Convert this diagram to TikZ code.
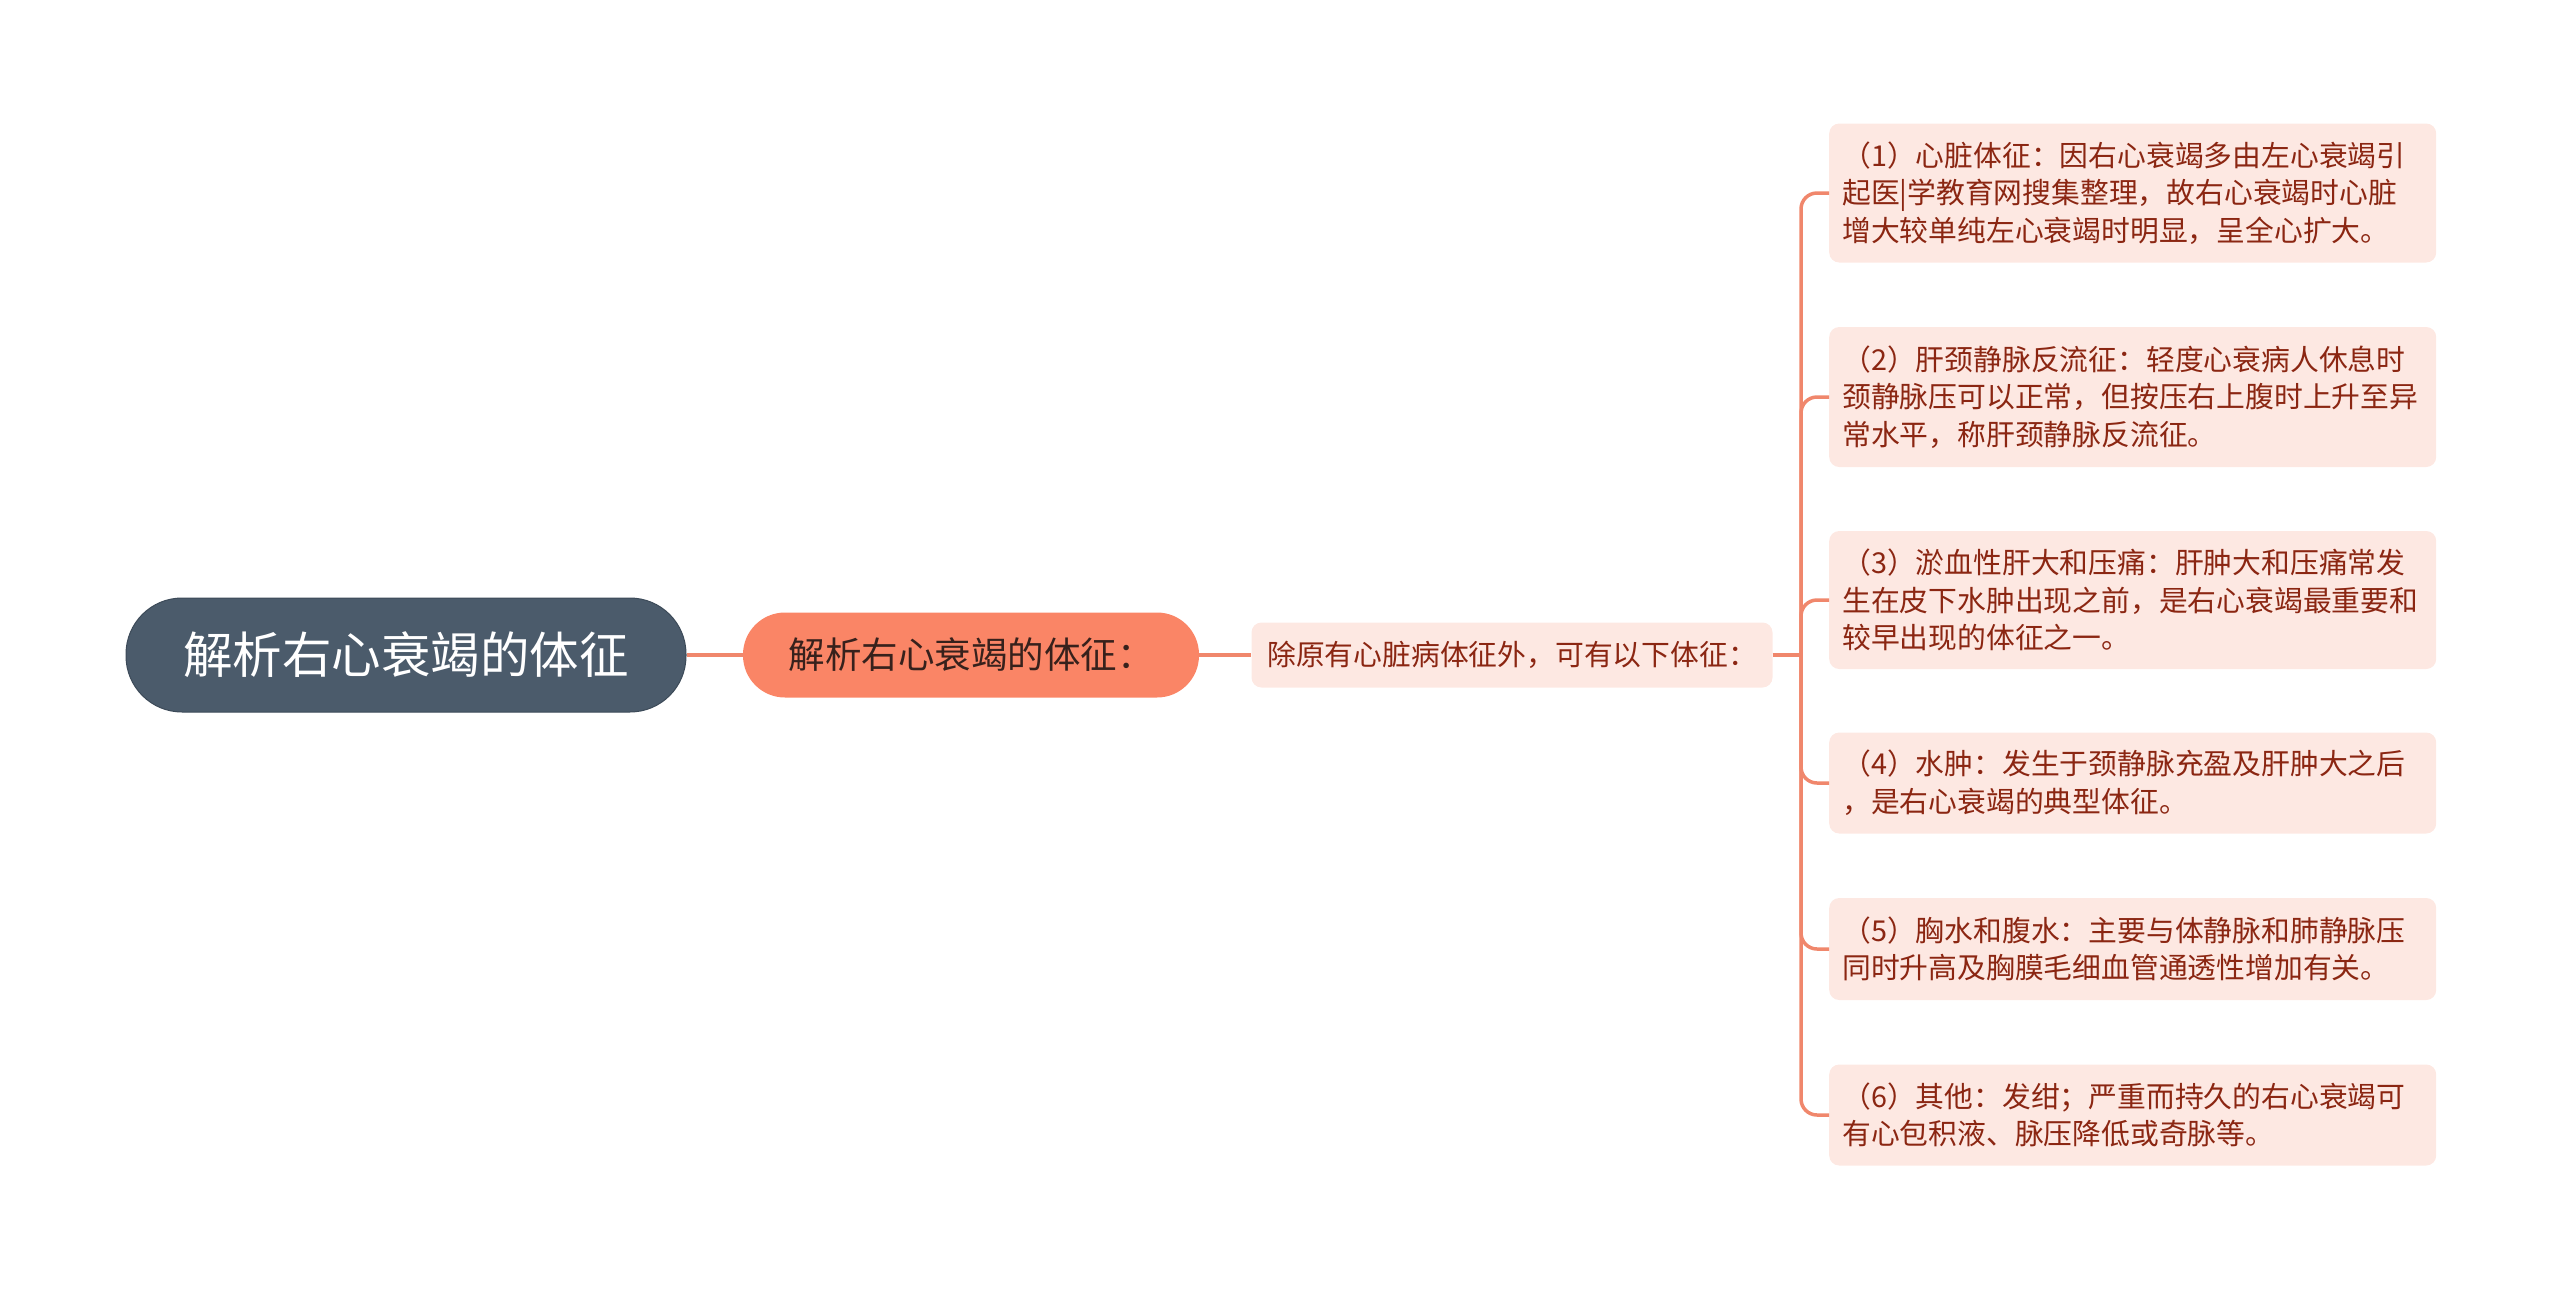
\documentclass[tikz,border=0pt]{standalone}
\usepackage{fontspec}
\setmainfont{Noto Sans CJK SC}
\usetikzlibrary{positioning}
\definecolor{rootfill}{RGB}{75,91,107}
\definecolor{rootline}{RGB}{60,74,88}
\definecolor{salmon}{RGB}{250,133,102}
\definecolor{linkcol}{RGB}{240,135,108}
\definecolor{leaffill}{RGB}{253,232,226}
\definecolor{leaftext}{RGB}{139,38,18}
\definecolor{midtext}{RGB}{55,33,28}
\begin{document}
\begin{tikzpicture}[x=1pt,y=-1pt,
    rootbox/.style={fill=rootfill,draw=rootline,line width=1pt,rounded corners=56pt,
      minimum width=560pt,minimum height=114pt,inner sep=0pt,text=white,
      font=\fontsize{49.5}{58}\selectfont},
    midbox/.style={fill=salmon,rounded corners=42pt,minimum width=456pt,minimum height=85pt,
      inner sep=0pt,text=midtext,font=\fontsize{36.5}{44}\selectfont},
    subbox/.style={fill=leaffill,rounded corners=10pt,minimum width=521pt,minimum height=65pt,
      inner sep=0pt,text=leaftext,font=\fontsize{28.8}{37.6}\selectfont},
    leafbox/.style={fill=leaffill,rounded corners=10pt,anchor=west,align=left,
      text width=581pt,inner xsep=13pt,inner ysep=0pt,text=leaftext,
      font=\fontsize{28.8}{37.6}\selectfont},
    link/.style={draw=linkcol,line width=3.5pt}]
\useasboundingbox (0,0) rectangle (2560,1291);
\node[rootbox] (root) at (406,655) {解析右心衰竭的体征};
\node[midbox] (mid) at (971,655) {解析右心衰竭的体征：};
\node[subbox] (sub) at (1512,655) {除原有心脏病体征外，可有以下体征：};
\coordinate (fork) at (1801,655);
\node[leafbox,minimum height=139pt] (leaf1) at (1829,193)
  {（1）心脏体征：因右心衰竭多由左心衰竭引\\起医|学教育网搜集整理，故右心衰竭时心脏\\增大较单纯左心衰竭时明显，呈全心扩大。};
\node[leafbox,minimum height=140pt] (leaf2) at (1829,397)
  {（2）肝颈静脉反流征：轻度心衰病人休息时\\颈静脉压可以正常，但按压右上腹时上升至异\\常水平，称肝颈静脉反流征。};
\node[leafbox,minimum height=138pt] (leaf3) at (1829,600)
  {（3）淤血性肝大和压痛：肝肿大和压痛常发\\生在皮下水肿出现之前，是右心衰竭最重要和\\较早出现的体征之一。};
\node[leafbox,minimum height=101pt] (leaf4) at (1829,783)
  {（4）水肿：发生于颈静脉充盈及肝肿大之后\\，是右心衰竭的典型体征。};
\node[leafbox,minimum height=102pt] (leaf5) at (1829,949)
  {（5）胸水和腹水：主要与体静脉和肺静脉压\\同时升高及胸膜毛细血管通透性增加有关。};
\node[leafbox,minimum height=101pt] (leaf6) at (1829,1115)
  {（6）其他：发绀；严重而持久的右心衰竭可\\有心包积液、脉压降低或奇脉等。};
\draw[link] (root) -- (mid);
\draw[link] (mid) -- (sub);
\draw[link] (sub) -- (fork);
\foreach \n in {1,...,6}
  \draw[link,rounded corners=16pt] (fork) |- (leaf\n.west);
\end{tikzpicture}
\end{document}
